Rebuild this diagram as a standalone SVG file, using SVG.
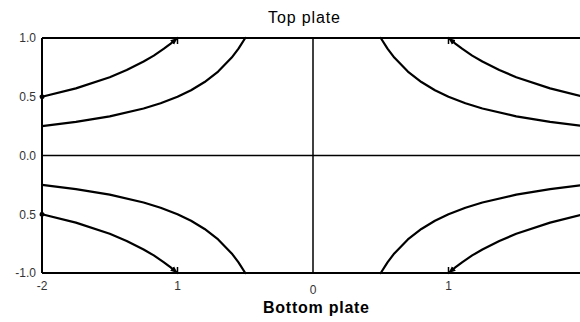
<svg xmlns="http://www.w3.org/2000/svg" xmlns:xlink="http://www.w3.org/1999/xlink" width="580" height="322" viewBox="0 0 580 322">
<style>
.frame{fill:none;stroke:#000;stroke-width:2}
.axis{fill:none;stroke:#000;stroke-width:1.5}
.curve{fill:none;stroke:#000;stroke-width:2.2;stroke-linejoin:round;stroke-linecap:round}
.tick{font-family:"Liberation Sans",Arial,sans-serif;font-size:12px;fill:#333}
.title{font-family:"Liberation Sans",Arial,sans-serif;font-size:16px;fill:#000}
</style>
<defs>
<marker id="arr" markerWidth="8" markerHeight="8" refX="7" refY="4" orient="auto" markerUnits="userSpaceOnUse">
<path d="M0,1 L7,4 L0,7 Z" fill="#000"/>
</marker>
<marker id="dot" markerWidth="6" markerHeight="6" refX="3" refY="3" orient="auto" markerUnits="userSpaceOnUse">
<circle cx="3" cy="3" r="2.4" fill="#000"/>
</marker>
<polyline id="inner" class="curve" marker-start="url(#dot)" marker-end="url(#arr)" points="42,96.75 75.9,88.36 109.75,77.17 126.7,70.1 143.6,61.5 153.8,55.6 163.95,48.68 170.7,43.6 177.5,38"/>
<polyline id="outer" class="curve" points="42,126.1 75.9,121.93 109.75,116.33 143.6,108.5 160.6,103.3 177.5,96.75 191.05,90.22 204.6,82.06 218.15,71.57 231.7,57.58 238.5,48.68 245.25,38"/>
</defs>
<g id="frame">
<line class="frame" x1="42" y1="38" x2="580" y2="38"/>
<line class="frame" x1="42" y1="273" x2="580" y2="273"/>
<line class="frame" x1="42" y1="38" x2="42" y2="273"/>
<line class="axis" x1="42" y1="155.5" x2="580" y2="155.5"/>
<line class="axis" x1="313" y1="38" x2="313" y2="273"/>
<line class="axis" x1="177.5" y1="38" x2="177.5" y2="44"/>
<line class="axis" x1="448.5" y1="38" x2="448.5" y2="44"/>
<line class="axis" x1="177.5" y1="273" x2="177.5" y2="267"/>
<line class="axis" x1="448.5" y1="273" x2="448.5" y2="267"/>
</g>
<g id="connectors">
<use xlink:href="#inner"/>
<use xlink:href="#outer"/>
<use xlink:href="#inner" transform="translate(626,0) scale(-1,1)"/>
<use xlink:href="#outer" transform="translate(626,0) scale(-1,1)"/>
<use xlink:href="#inner" transform="translate(0,311) scale(1,-1)"/>
<use xlink:href="#outer" transform="translate(0,311) scale(1,-1)"/>
<use xlink:href="#inner" transform="translate(626,311) scale(-1,-1)"/>
<use xlink:href="#outer" transform="translate(626,311) scale(-1,-1)"/>
</g>
<g id="labels">
<text class="tick" x="36" y="42" text-anchor="end">1.0</text>
<text class="tick" x="36" y="101" text-anchor="end">0.5</text>
<text class="tick" x="36" y="160" text-anchor="end">0.0</text>
<text class="tick" x="36" y="219" text-anchor="end">0.5</text>
<text class="tick" x="36" y="277" text-anchor="end">-1.0</text>
<text class="tick" x="42" y="290" text-anchor="middle">-2</text>
<text class="tick" x="177.5" y="290" text-anchor="middle">1</text>
<text class="tick" x="313" y="294" text-anchor="middle">0</text>
<text class="tick" x="448.5" y="290" text-anchor="middle">1</text>
<text class="title" x="304" y="23" text-anchor="middle" textLength="72">Top plate</text>
<text class="title" x="316" y="313" text-anchor="middle" font-weight="bold" textLength="106">Bottom plate</text>
</g>
</svg>
